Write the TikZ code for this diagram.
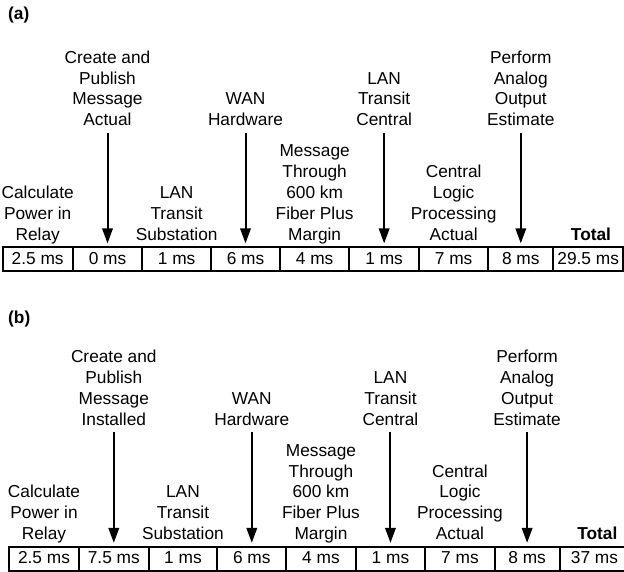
\documentclass[tikz,border=0pt]{standalone}
\usepackage{fontspec}
\setmainfont{Liberation Sans}
\usetikzlibrary{arrows.meta}
\newcommand\tlfont{\fontsize{17.3}{20.8}\selectfont}
\tikzset{
  cell/.style={draw, line width=2pt, minimum height=23.7pt, inner sep=0pt, outer sep=0pt,
    text height=12.4pt, text depth=2.6pt, font=\tlfont},
  lbl/.style={align=center, inner sep=0pt, outer sep=0pt, anchor=south, font=\tlfont},
  arr/.style={line width=2pt, -{Triangle[length=15pt,width=10.5pt]}, shorten <=1pt, shorten >=4pt},
  tag/.style={font=\tlfont\bfseries, inner sep=0pt, anchor=base west},
}
\newcommand\timeline[5]{%
\begin{scope}[shift={#2}, name prefix=#1-]
  \node[cell, minimum width=70pt]   (c1) at (37.7,259.2)   {2.5 ms};
  \node[cell, minimum width=69.6pt] (c2) at (107.5,259.2)  {#3};
  \node[cell, minimum width=68.7pt] (c3) at (176.65,259.2) {1 ms};
  \node[cell, minimum width=69pt]   (c4) at (245.5,259.2)  {6 ms};
  \node[cell, minimum width=69.3pt] (c5) at (314.65,259.2) {4 ms};
  \node[cell, minimum width=69.7pt] (c6) at (384.15,259.2) {1 ms};
  \node[cell, minimum width=69.3pt] (c7) at (453.65,259.2) {7 ms};
  \node[cell, minimum width=65pt]   (c8) at (520.8,259.2)  {8 ms};
  \node[cell, minimum width=69.7pt] (c9) at (588.15,259.2) {#5};
  % labels below (bottom-aligned above the table)
  \node[lbl] (b1) at (37.7,246.24)   {Calculate\\Power in\\Relay\strut};
  \node[lbl] (b3) at (176.65,246.24) {LAN\\Transit\\Substation\strut};
  \node[lbl] (b5) at (314.65,246.24) {Message\\Through\\600 km\\Fiber Plus\\Margin\strut};
  \node[lbl] (b7) at (453.65,246.24) {Central\\Logic\\Processing\\Actual\strut};
  \node[lbl, font=\tlfont\bfseries] (tot) at (591,246.24) {Total\strut};
  % labels above with arrows
  \node[lbl] (t2) at (107.5,131.94)  {Create and\\Publish\\Message\\#4\strut};
  \node[lbl] (t4) at (245.5,131.94)  {WAN\\Hardware\strut};
  \node[lbl] (t6) at (384.15,131.94) {LAN\\Transit\\Central\strut};
  \node[lbl] (t8) at (520.8,131.94)  {Perform\\Analog\\Output\\Estimate\strut};
  \draw[arr] (t2.south -| c2.north) -- (c2.north);
  \draw[arr] (t4.south -| c4.north) -- (c4.north);
  \draw[arr] (t6.south -| c6.north) -- (c6.north);
  \draw[arr] (t8.south -| c8.north) -- (c8.north);
\end{scope}}
\begin{document}
\begin{tikzpicture}[x=1pt, y=-1pt]
  \useasboundingbox (0,0) rectangle (624,571);
  \clip (0,0) rectangle (624,571);
  \node[tag] (taga) at (8,19.7) {(a)};
  \node[tag] (tagb) at (8,323) {(b)};
  \timeline{A}{(0,0)}{0 ms}{Actual}{29.5 ms}
  \timeline{B}{(6.3,299.5)}{7.5 ms}{Installed}{37 ms}
\end{tikzpicture}
\end{document}
